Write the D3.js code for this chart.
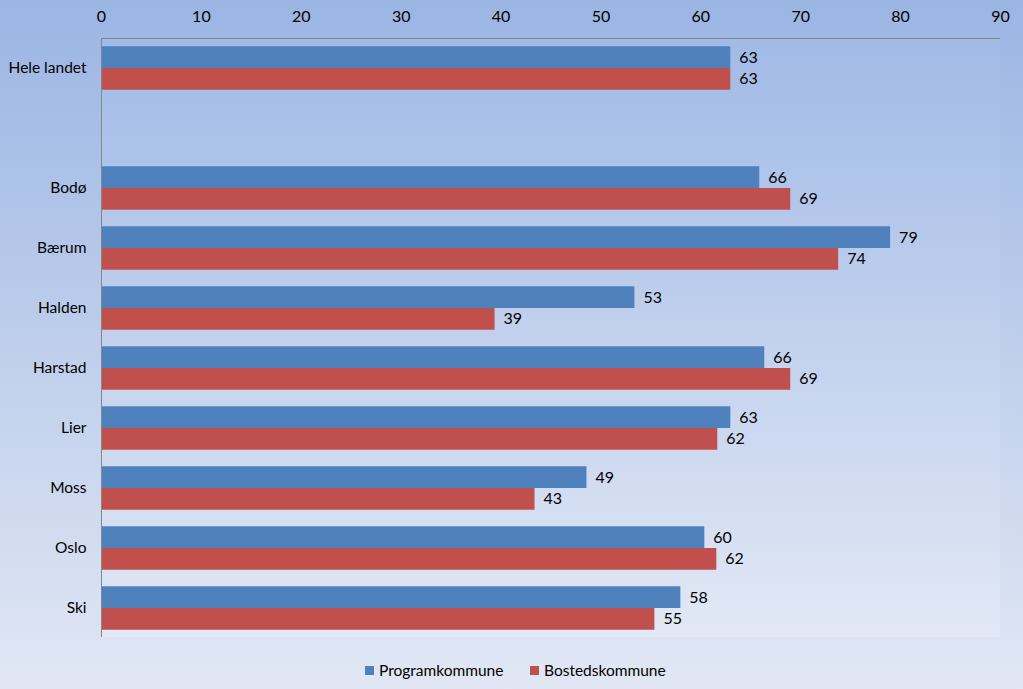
<!DOCTYPE html>
<html>
<head>
<meta charset="utf-8">
<script src="https://cdn.jsdelivr.net/npm/d3@7"></script>
<style>
  html, body { margin: 0; padding: 0; }
  svg { display: block; }
  text { font-family: Lato, "Open Sans", sans-serif; fill: #000; }
</style>
</head>
<body>
<svg id="chart" width="1023" height="689"></svg>
<script>
const categories = ["Hele landet", "", "Bodø", "Bærum", "Halden", "Harstad", "Lier", "Moss", "Oslo", "Ski"];
const seriesNames = ["Programkommune", "Bostedskommune"];
const programValues = [63.0, null, 65.9, 79.0, 53.4, 66.4, 63.0, 48.6, 60.4, 58.0];
const bostedValues  = [63.0, null, 69.0, 73.8, 39.4, 69.0, 61.7, 43.4, 61.6, 55.4];
const seriesColors = ["#4f81bd", "#c0504d"];
const tickValues = [0, 10, 20, 30, 40, 50, 60, 70, 80, 90];

const W = 1023, H = 689;
const plot = { left: 101, right: 1000, top: 38, bottom: 638 };
const svg = d3.select("#chart");

const defs = svg.append("defs");
const bg = defs.append("linearGradient").attr("id", "bg").attr("x1", 0).attr("y1", 0).attr("x2", 0).attr("y2", 1);
bg.append("stop").attr("offset", "0%").attr("stop-color", "#9bb5e3");
bg.append("stop").attr("offset", "100%").attr("stop-color", "#e1e7f4");
const pg = defs.append("linearGradient").attr("id", "pg").attr("x1", 0).attr("y1", 0).attr("x2", 0).attr("y2", 1);
pg.append("stop").attr("offset", "0%").attr("stop-color", "#a1bae6");
pg.append("stop").attr("offset", "100%").attr("stop-color", "#e2e8f5");

svg.append("rect").attr("width", W).attr("height", H).attr("fill", "url(#bg)");
svg.append("rect").attr("x", plot.left).attr("y", plot.top)
  .attr("width", plot.right - plot.left).attr("height", plot.bottom - 1 - plot.top)
  .attr("fill", "url(#pg)");

const x = d3.scaleLinear().domain([0, 90]).range([plot.left, plot.right]);
const y = d3.scaleBand().domain(categories.map((c, i) => i)).range([plot.top, plot.bottom]).padding(0);
const ySub = d3.scaleBand().domain([0, 1]).range([0, y.bandwidth()]).paddingOuter(0.38).paddingInner(0);

const data = categories.map((c, i) => ({ cat: c, i, vals: [programValues[i], bostedValues[i]] }));

// bars
const groups = svg.append("g").selectAll("g").data(data).join("g")
  .attr("transform", d => `translate(0,${y(d.i)})`);
groups.selectAll("rect").data(d => d.vals.map((v, s) => ({ v, s })).filter(e => e.v != null)).join("rect")
  .attr("x", x(0))
  .attr("y", e => ySub(e.s))
  .attr("width", e => x(e.v) - x(0))
  .attr("height", ySub.bandwidth())
  .attr("fill", e => seriesColors[e.s]);
groups.selectAll("text.val").data(d => d.vals.map((v, s) => ({ v, s })).filter(e => e.v != null)).join("text")
  .attr("class", "val")
  .attr("x", e => x(e.v) + 9)
  .attr("y", e => ySub(e.s) + ySub.bandwidth() / 2)
  .attr("dy", "0.35em")
  .attr("font-size", 16)
  .text(e => d3.format(".0f")(e.v));

// top axis
const xAxis = d3.axisTop(x).tickValues(tickValues).tickSize(0).tickPadding(0).tickFormat(d3.format("d"));
const gx = svg.append("g").attr("transform", `translate(0,${plot.top + 0.5})`).call(xAxis);
gx.select(".domain").attr("stroke", "#868686").attr("d", `M${plot.left},0H${plot.right}`);
gx.selectAll("text").attr("y", -16.5).attr("font-size", 16).attr("font-family", "Lato, sans-serif").attr("fill", "#000");

// left axis
const yAxis = d3.axisLeft(y).tickSize(0).tickPadding(15).tickFormat(i => categories[i]);
const gy = svg.append("g").attr("transform", `translate(${plot.left + 0.5},0)`).call(yAxis);
gy.select(".domain").attr("stroke", "#868686").attr("d", `M0,${plot.top}V${plot.bottom - 1}`);
gy.selectAll("text").attr("font-size", 15.5).attr("font-family", "Lato, sans-serif").attr("fill", "#000");

// legend
const legendX = [365, 530];
const legend = svg.append("g").selectAll("g").data(seriesNames).join("g")
  .attr("transform", (d, i) => `translate(${legendX[i]},666)`);
legend.append("rect").attr("width", 9).attr("height", 9).attr("fill", (d, i) => seriesColors[i]);
legend.append("text").attr("x", 14).attr("y", 4.5).attr("dy", "0.35em").attr("font-size", 15.5).text(d => d);
</script>
</body>
</html>
